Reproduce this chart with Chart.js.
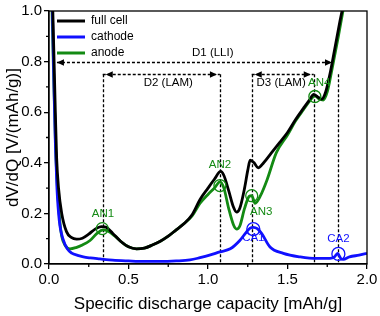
<!DOCTYPE html>
<html><head><meta charset="utf-8">
<script src="https://cdn.jsdelivr.net/npm/chart.js@4/dist/chart.umd.min.js"></script>
<style>html,body{margin:0;padding:0;background:#fff;}</style>
</head><body>
<canvas id="c" width="380" height="316"></canvas>
<script>
// ---- data ----
const fullCellX = [0.022,0.03,0.04,0.048,0.06,0.08,0.11,0.14,0.174,0.21,0.25,0.29,0.33,0.36,0.40,0.45,0.50,0.55,0.60,0.65,0.70,0.75,0.80,0.85,0.90,0.95,1.00,1.04,1.08,1.10,1.13,1.16,1.18,1.20,1.23,1.25,1.265,1.29,1.315,1.35,1.40,1.45,1.50,1.55,1.60,1.64,1.665,1.69,1.715,1.74,1.77,1.80,1.83,1.86];
const fullCellY = [1.05,0.85,0.6,0.42,0.3,0.2,0.128,0.105,0.098,0.102,0.118,0.138,0.148,0.145,0.122,0.09,0.068,0.06,0.063,0.075,0.09,0.11,0.135,0.16,0.195,0.255,0.30,0.335,0.366,0.35,0.29,0.225,0.205,0.22,0.30,0.37,0.41,0.40,0.38,0.40,0.44,0.48,0.52,0.57,0.615,0.65,0.67,0.66,0.652,0.68,0.76,0.86,0.96,1.05];

const cathodeX = [0.02,0.03,0.04,0.05,0.065,0.09,0.115,0.143,0.18,0.216,0.26,0.32,0.4,0.5,0.6,0.7,0.8,0.887,0.95,1.01,1.075,1.14,1.2,1.24,1.265,1.285,1.31,1.338,1.39,1.474,1.58,1.684,1.767,1.795,1.815,1.835,1.85,1.89,1.95,2.0];
const cathodeY = [1.05,0.75,0.48,0.3,0.17,0.095,0.06,0.043,0.034,0.028,0.024,0.02,0.015,0.012,0.01,0.01,0.012,0.016,0.025,0.035,0.048,0.06,0.093,0.125,0.142,0.145,0.14,0.12,0.067,0.042,0.028,0.022,0.022,0.028,0.042,0.022,0.018,0.028,0.035,0.042];

const anodeX = [0.017,0.03,0.042,0.055,0.068,0.08,0.1,0.132,0.17,0.21,0.258,0.30,0.34,0.37,0.415,0.46,0.50,0.55,0.60,0.65,0.70,0.75,0.80,0.85,0.90,0.95,1.0,1.04,1.075,1.10,1.13,1.16,1.18,1.20,1.23,1.26,1.275,1.296,1.33,1.37,1.43,1.50,1.55,1.60,1.64,1.672,1.70,1.725,1.75,1.78,1.82,1.86];
const anodeY = [1.05,0.72,0.45,0.28,0.17,0.11,0.075,0.06,0.065,0.075,0.093,0.12,0.135,0.13,0.11,0.085,0.068,0.06,0.063,0.075,0.09,0.11,0.135,0.16,0.19,0.24,0.275,0.30,0.325,0.30,0.22,0.155,0.138,0.15,0.22,0.268,0.27,0.24,0.27,0.33,0.44,0.51,0.565,0.61,0.645,0.665,0.652,0.648,0.68,0.77,0.90,1.04];

const xTicks = [0, 0.5, 1.0, 1.5, 2.0];
const yTicks = [0, 0.2, 0.4, 0.6, 0.8, 1.0];

// annotation values
const guideX = [0.338, 1.075, 1.275, 1.665, 1.82];
const guideTop = 0.75;
const arrowLabels = ['D1 (LLI)', 'D2 (LAM)', 'D3 (LAM)'];
const arrowFrom = [0.05, 0.338, 1.275];
const arrowTo = [1.78, 1.075, 1.665];
const arrowY = [0.8, 0.75, 0.75];
const arrowTextX = [1.03, 0.75, 1.46];
const arrowTextY = [0.833, 0.716, 0.716];
const anodePeakLabels = ['AN1', 'AN2', 'AN3', 'AN4'];
const anodePeakX = [0.335, 1.075, 1.275, 1.672];
const anodePeakY = [0.14, 0.31, 0.27, 0.662];
const anodeLabelX = [0.34, 1.075, 1.335, 1.70];
const anodeLabelY = [0.20, 0.392, 0.205, 0.715];
const cathodePeakLabels = ['CA1', 'CA2'];
const cathodePeakX = [1.285, 1.82];
const cathodePeakY = [0.138, 0.04];
const cathodeLabelX = [1.285, 1.82];
const cathodeLabelY = [0.103, 0.10];

const BLACK = '#000000', BLUE = '#1010ff', GREEN = '#138a13';
const FONT = '"Liberation Sans", Arial, sans-serif';
const pts = (xs, ys) => xs.map((v, i) => ({x: v, y: ys[i]}));

const deco = {
  id: 'deco',
  beforeDatasetsDraw(chart) {
    const {ctx, scales: {x, y}} = chart;
    ctx.save();
    ctx.strokeStyle = '#000'; ctx.lineWidth = 1.3; ctx.setLineDash([3, 2]);
    guideX.forEach(v => {
      const px = Math.round(x.getPixelForValue(v)) + 0.5;
      ctx.beginPath(); ctx.moveTo(px, y.getPixelForValue(guideTop)); ctx.lineTo(px, y.getPixelForValue(0)); ctx.stroke();
    });
    arrowFrom.forEach((v, i) => {
      const py = Math.round(y.getPixelForValue(arrowY[i])) + 0.5;
      ctx.beginPath(); ctx.moveTo(x.getPixelForValue(v), py); ctx.lineTo(x.getPixelForValue(arrowTo[i]), py); ctx.stroke();
    });
    ctx.restore();
  },
  afterDatasetsDraw(chart) {
    const {ctx, chartArea: a, scales: {x, y}} = chart;
    ctx.save();
    ctx.fillStyle = '#000';
    const head = (tx, ty, dir) => {
      ctx.beginPath(); ctx.moveTo(tx, ty); ctx.lineTo(tx - dir * 7, ty - 3.2); ctx.lineTo(tx - dir * 7, ty + 3.2); ctx.closePath(); ctx.fill();
    };
    arrowFrom.forEach((v, i) => {
      const py = Math.round(y.getPixelForValue(arrowY[i])) + 0.5;
      const inset = i === 0 ? 0 : 3;
      head(x.getPixelForValue(v) + inset, py, -1);
      head(x.getPixelForValue(arrowTo[i]) - inset, py, 1);
    });
    ctx.font = '11.5px ' + FONT;
    ctx.textAlign = 'center'; ctx.textBaseline = 'middle';
    arrowLabels.forEach((t, i) => ctx.fillText(t, x.getPixelForValue(arrowTextX[i]), y.getPixelForValue(arrowTextY[i])));
    ctx.lineWidth = 1.3;
    ctx.strokeStyle = GREEN;
    anodePeakX.forEach((v, i) => { ctx.beginPath(); ctx.arc(x.getPixelForValue(v), y.getPixelForValue(anodePeakY[i]), 6, 0, Math.PI * 2); ctx.stroke(); });
    ctx.strokeStyle = BLUE;
    cathodePeakX.forEach((v, i) => { ctx.beginPath(); ctx.arc(x.getPixelForValue(v), y.getPixelForValue(cathodePeakY[i]), 6.5, 0, Math.PI * 2); ctx.stroke(); });
    ctx.fillStyle = GREEN;
    anodePeakLabels.forEach((t, i) => ctx.fillText(t, x.getPixelForValue(anodeLabelX[i]), y.getPixelForValue(anodeLabelY[i])));
    ctx.fillStyle = BLUE;
    cathodePeakLabels.forEach((t, i) => ctx.fillText(t, x.getPixelForValue(cathodeLabelX[i]), y.getPixelForValue(cathodeLabelY[i])));
    // frame
    ctx.strokeStyle = '#000'; ctx.lineWidth = 1.3;
    ctx.strokeRect(a.left, a.top, a.right - a.left, a.bottom - a.top);
    // minor ticks
    ctx.beginPath();
    [0.25, 0.75, 1.25, 1.75].forEach(v => { const px = x.getPixelForValue(v); ctx.moveTo(px, a.bottom); ctx.lineTo(px, a.bottom + 3); });
    [0.1, 0.3, 0.5, 0.7, 0.9].forEach(v => { const py = y.getPixelForValue(v); ctx.moveTo(a.left, py); ctx.lineTo(a.left - 3, py); });
    ctx.stroke();
    // legend
    ctx.font = '12px ' + FONT;
    ctx.textAlign = 'left';
    chart.data.datasets.forEach((ds, i) => {
      const ly = a.top + 10 + i * 16;
      ctx.strokeStyle = ds.borderColor; ctx.lineWidth = 3;
      ctx.beginPath(); ctx.moveTo(a.left + 8, ly); ctx.lineTo(a.left + 36, ly); ctx.stroke();
      ctx.fillStyle = '#000'; ctx.fillText(ds.label, a.left + 42, ly);
    });
    ctx.restore();
  }
};

const tickFont = {family: FONT, size: 15};
new Chart(document.getElementById('c'), {
  type: 'scatter',
  data: {
    datasets: [
      {label: 'full cell', data: pts(fullCellX, fullCellY), borderColor: BLACK},
      {label: 'cathode', data: pts(cathodeX, cathodeY), borderColor: BLUE},
      {label: 'anode', data: pts(anodeX, anodeY), borderColor: GREEN}
    ].map(d => Object.assign(d, {showLine: true, pointRadius: 0, borderWidth: 2.8, cubicInterpolationMode: 'monotone', backgroundColor: d.borderColor}))
  },
  options: {
    responsive: false, animation: false, devicePixelRatio: 1,
    layout: {padding: {left: 0, right: 13, top: 7, bottom: 0}},
    plugins: {legend: {display: false}, tooltip: {enabled: false}},
    scales: {
      x: {
        type: 'linear', min: 0, max: 2,
        afterBuildTicks: s => { s.ticks = xTicks.map(v => ({value: v})); },
        afterFit: s => { s.height = 52; },
        ticks: {callback: v => v.toFixed(1), font: tickFont, color: '#000', padding: 2, maxRotation: 0},
        grid: {drawOnChartArea: false, color: '#000', tickLength: 5, lineWidth: 1.3},
        border: {color: '#000', width: 1.3},
        title: {display: true, text: 'Specific discharge capacity [mAh/g]', font: {family: FONT, size: 17}, color: '#000', padding: {top: 4, bottom: 1}}
      },
      y: {
        type: 'linear', min: 0, max: 1,
        afterBuildTicks: s => { s.ticks = yTicks.map(v => ({value: v})); },
        afterFit: s => { s.width = 49; },
        ticks: {callback: v => v.toFixed(1), font: tickFont, color: '#000', padding: 2},
        grid: {drawOnChartArea: false, color: '#000', tickLength: 5, lineWidth: 1.3},
        border: {color: '#000', width: 1.3},
        title: {display: true, text: 'dV/dQ [V/(mAh/g)]', font: {family: FONT, size: 17}, color: '#000', padding: {top: 3, bottom: 0}}
      }
    }
  },
  plugins: [deco]
});
</script>
</body></html>
